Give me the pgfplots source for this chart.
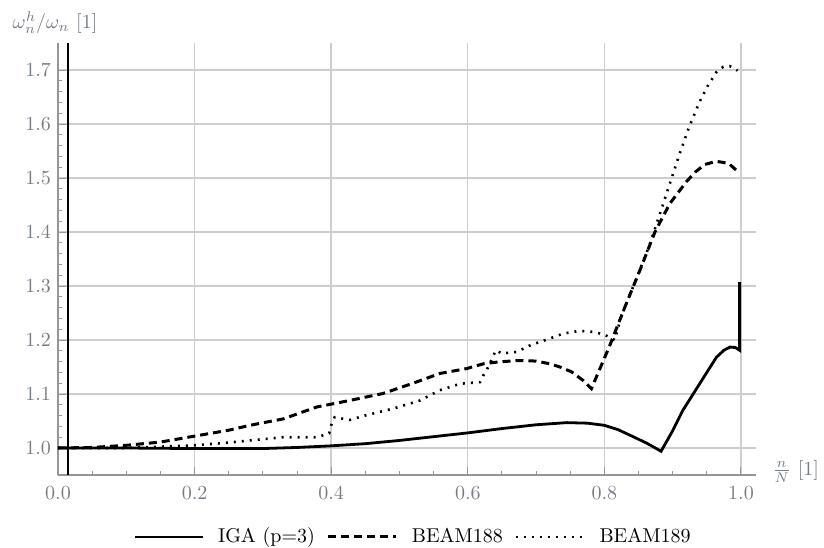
\documentclass[border=0pt]{standalone}
\usepackage{pgfplots}
\pgfplotsset{compat=1.18}
\usepackage{pgfplotstable}

\definecolor{labelgray}{RGB}{118,124,134}
\definecolor{axgray}{RGB}{150,150,150}
\definecolor{gridgray}{RGB}{205,205,205}

% IGA (p=3)
\pgfplotstableread{
x y
0 1.000
0.05 1.000
0.1 1.000
0.2 0.999
0.3 0.999
0.35 1.001
0.4 1.004
0.45 1.008
0.5 1.014
0.55 1.021
0.6 1.028
0.65 1.036
0.7 1.043
0.745 1.047
0.775 1.046
0.8 1.042
0.82 1.034
0.842 1.021
0.862 1.009
0.883 0.994
0.9 1.032
0.915 1.070
0.94 1.120
0.964 1.168
0.975 1.181
0.984 1.187
0.992 1.186
0.998 1.181
0.998 1.307
}\iga

% BEAM188
\pgfplotstableread{
x y
0 1.000
0.05 1.001
0.1 1.005
0.15 1.011
0.2 1.022
0.25 1.033
0.281 1.042
0.33 1.054
0.379 1.076
0.427 1.088
0.476 1.101
0.52 1.120
0.559 1.138
0.598 1.147
0.623 1.156
0.642 1.159
0.672 1.162
0.700 1.161
0.720 1.156
0.735 1.150
0.752 1.141
0.769 1.125
0.781 1.110
0.807 1.187
0.830 1.261
0.852 1.329
0.874 1.400
0.896 1.453
0.920 1.493
0.933 1.511
0.947 1.525
0.964 1.531
0.982 1.527
0.998 1.509
}\beamA

% BEAM189
\pgfplotstableread{
x y
0 1.000
0.1 1.000
0.2 1.005
0.25 1.010
0.281 1.014
0.33 1.020
0.379 1.020
0.397 1.027
0.400 1.042
0.405 1.057
0.427 1.052
0.452 1.061
0.491 1.073
0.53 1.088
0.559 1.107
0.589 1.119
0.618 1.122
0.623 1.135
0.63 1.150
0.641 1.181
0.650 1.175
0.672 1.178
0.691 1.190
0.716 1.201
0.740 1.212
0.764 1.217
0.784 1.215
0.800 1.210
0.815 1.200
0.825 1.245
0.847 1.314
0.867 1.379
0.891 1.471
0.911 1.548
0.924 1.594
0.939 1.640
0.951 1.670
0.964 1.696
0.974 1.706
0.984 1.707
0.995 1.699
}\beamB

\begin{document}
\begin{tikzpicture}
\begin{axis}[scale only axis, width=349pt, height=216pt,
  xmin=0, xmax=1.022, ymin=0.95, ymax=1.75,
  axis lines=left, axis line style={-, draw=axgray, line width=0.6pt},
  xtick={0,0.2,0.4,0.6,0.8,1.0}, ytick={1.0,1.1,1.2,1.3,1.4,1.5,1.6,1.7},
  minor x tick num=3, minor y tick num=4,
  tick align=inside, major tick length=4pt, minor tick length=2pt,
  tick style={draw=axgray, line width=0.5pt},
  grid=major, grid style={draw=gridgray, line width=0.7pt},
  /pgf/number format/fixed, /pgf/number format/fixed zerofill, /pgf/number format/precision=1,
  every tick label/.append style={text=labelgray},
  x tick label style={yshift=-2.5pt},
  every axis y label/.style={at={(axis description cs:-0.075,1.033)}, anchor=base west, text=labelgray},
  ylabel={$\omega_n^h/\omega_n$ [1]},
  every axis x label/.style={at={(axis description cs:1.013,0.009)}, anchor=west, text=labelgray},
  xlabel={$\frac{n}{N}$ [1]},
  legend columns=3,
  legend style={at={(axis description cs:0.51,-0.1435)}, anchor=center, draw=none, fill=none,
    /tikz/every odd column/.append style={column sep=5pt},
    /tikz/every even column/.append style={column sep=4pt}},
  legend cell align=left,
  legend image code/.code={\draw[#1] (0pt,0pt) -- (34pt,0pt);},
]
\addplot[black, line width=1.4pt] table {\iga};
\addlegendentry{IGA (p=3)}
\addplot[black, line width=1.5pt, dash pattern=on 4pt off 2.5pt] table {\beamA};
\addlegendentry{BEAM188}
\addplot[black, line width=1.3pt, dash pattern=on 1pt off 3pt] table {\beamB};
\addlegendentry{BEAM189}
\addplot[black, line width=1pt, forget plot] coordinates {(0.015,0.95) (0.015,1.75)};
\end{axis}
\pgfresetboundingbox
\path (-29pt,-36pt) rectangle (383pt,237.5pt);
\end{tikzpicture}
\end{document}
